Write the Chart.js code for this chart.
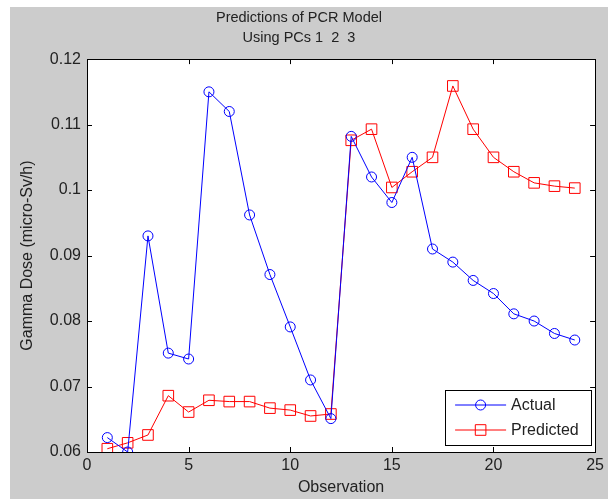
<!DOCTYPE html>
<html lang="en">
<head>
  <meta charset="UTF-8">
  <title>Predictions of PCR Model</title>
  <script src="https://cdn.jsdelivr.net/npm/chart.js"></script>
  <style>
    html, body { margin: 0; padding: 0; background: #fff; }
    #wrap { width: 608px; height: 499px; }
  </style>
</head>
<body>
  <div id="wrap"><canvas id="pcr-chart" width="608" height="499"></canvas></div>

  <script>
    // data
    const observations = [1, 2, 3, 4, 5, 6, 7, 8, 9, 10, 11, 12, 13, 14, 15, 16, 17, 18, 19, 20, 21, 22, 23, 24];
    const actual = [0.0622, 0.0600, 0.0930, 0.0751, 0.0742, 0.1150, 0.1120, 0.0962, 0.0871, 0.0791, 0.0710, 0.0651,
                    0.1082, 0.1020, 0.0981, 0.1050, 0.0910, 0.0890, 0.0862, 0.0842, 0.0811, 0.0800, 0.0781, 0.0771];
    const predicted = [0.0605, 0.0614, 0.0626, 0.0686, 0.0661, 0.0679, 0.0677, 0.0677, 0.0667, 0.0664, 0.0655, 0.0658,
                       0.1076, 0.1093, 0.1004, 0.1028, 0.1050, 0.1159, 0.1093, 0.1050, 0.1028, 0.1011, 0.1006, 0.1003];
    const xTicks = [0, 5, 10, 15, 20, 25];
    const yTicks = [0.06, 0.07, 0.08, 0.09, 0.10, 0.11, 0.12];

    const FONT = "'Liberation Sans', Arial, sans-serif";
    const TEXT = '#222';

    // grey figure background, white axes box
    const backdrop = {
      id: 'backdrop',
      beforeDraw(chart) {
        const { ctx, chartArea: a } = chart;
        ctx.save();
        ctx.fillStyle = '#fff';
        ctx.fillRect(0, 0, chart.width, chart.height);
        ctx.fillStyle = '#cccccc';
        ctx.fillRect(10, 7, chart.width - 10, chart.height - 7);
        ctx.fillStyle = '#fff';
        ctx.fillRect(a.left, a.top, a.right - a.left, a.bottom - a.top);
        ctx.restore();
      }
    };

    // box outline with inward ticks on every side
    const axesBox = {
      id: 'axesBox',
      afterDatasetsDraw(chart) {
        const { ctx, chartArea: a, scales } = chart;
        const len = 5;
        ctx.save();
        ctx.strokeStyle = '#000';
        ctx.lineWidth = 1;
        ctx.beginPath();
        xTicks.forEach(v => {
          const px = Math.round(scales.x.getPixelForValue(v)) + 0.5;
          ctx.moveTo(px, a.bottom); ctx.lineTo(px, a.bottom - len);
          ctx.moveTo(px, a.top); ctx.lineTo(px, a.top + len);
        });
        yTicks.forEach(v => {
          const py = Math.round(scales.y.getPixelForValue(v)) + 0.5;
          ctx.moveTo(a.left, py); ctx.lineTo(a.left + len, py);
          ctx.moveTo(a.right, py); ctx.lineTo(a.right - len, py);
        });
        ctx.stroke();
        ctx.strokeRect(Math.round(a.left) + 0.5, Math.round(a.top) + 0.5,
                       Math.round(a.right - a.left), Math.round(a.bottom - a.top));
        ctx.restore();
      }
    };

    // legend box sitting inside the lower right corner
    const innerLegend = {
      id: 'innerLegend',
      afterDraw(chart) {
        const { ctx, chartArea: a } = chart;
        const w = 146, h = 55;
        const x0 = a.right - w - 4, y0 = a.bottom - h - 7;
        ctx.save();
        ctx.fillStyle = '#fff';
        ctx.fillRect(x0, y0, w, h);
        ctx.strokeStyle = '#000';
        ctx.lineWidth = 1;
        ctx.strokeRect(Math.round(x0) + 0.5, Math.round(y0) + 0.5, w, h);
        ctx.font = '16px ' + FONT;
        ctx.textBaseline = 'middle';
        chart.data.datasets.forEach((ds, i) => {
          const y = y0 + 15 + i * 25;
          ctx.strokeStyle = ds.borderColor;
          ctx.beginPath();
          ctx.moveTo(x0 + 10, y); ctx.lineTo(x0 + 61, y);
          ctx.stroke();
          ctx.fillStyle = 'rgba(0,0,0,0)';
          Chart.helpers.drawPoint(ctx, {
            pointStyle: ds.pointStyle, radius: ds.pointRadius, borderWidth: 1
          }, x0 + 35.5, y);
          ctx.fillStyle = TEXT;
          ctx.fillText(ds.label, x0 + 66, y + 1);
        });
        ctx.restore();
      }
    };

    new Chart(document.getElementById('pcr-chart'), {
      type: 'line',
      data: {
        datasets: [{
          label: 'Actual',
          data: observations.map((o, i) => ({ x: o, y: actual[i] })),
          borderColor: '#0000ff',
          borderWidth: 1,
          pointStyle: 'circle',
          pointRadius: 5,
          pointBorderColor: '#0000ff',
          pointBackgroundColor: 'rgba(0,0,0,0)',
          pointBorderWidth: 1,
          tension: 0
        }, {
          label: 'Predicted',
          data: observations.map((o, i) => ({ x: o, y: predicted[i] })),
          borderColor: '#ff0000',
          borderWidth: 1,
          pointStyle: 'rect',
          pointRadius: 7.5,
          pointBorderColor: '#ff0000',
          pointBackgroundColor: 'rgba(0,0,0,0)',
          pointBorderWidth: 1,
          tension: 0
        }]
      },
      options: {
        responsive: false,
        animation: false,
        layout: { padding: { left: 0, right: 10, top: 0, bottom: 0 } },
        scales: {
          x: {
            type: 'linear',
            min: 0, max: 25,
            afterBuildTicks: s => { s.ticks = xTicks.map(v => ({ value: v })); },
            afterFit: s => { s.height = 47; },
            grid: { display: false, drawTicks: false },
            border: { display: false },
            ticks: { padding: 4, color: TEXT, font: { family: FONT, size: 16 } },
            title: {
              display: true, text: 'Observation', color: TEXT,
              font: { family: FONT, size: 16 }, padding: { top: 0, bottom: 1.5 }
            }
          },
          y: {
            min: 0.06, max: 0.12,
            afterBuildTicks: s => { s.ticks = yTicks.map(v => ({ value: v })); },
            afterFit: s => { s.width = 87; },
            grid: { display: false, drawTicks: false },
            border: { display: false },
            ticks: {
              padding: 6, color: TEXT, font: { family: FONT, size: 16 },
              callback: v => String(+v.toFixed(2))
            },
            title: {
              display: true, text: 'Gamma Dose (micro-Sv/h)', color: TEXT,
              font: { family: FONT, size: 16 }, padding: { top: 18.4, bottom: 0 }
            }
          }
        },
        plugins: {
          legend: { display: false },
          tooltip: { enabled: false },
          title: {
            display: true,
            text: ['Predictions of PCR Model', 'Using PCs 1  2  3'],
            color: TEXT,
            font: { family: FONT, size: 14.5, weight: 'normal', lineHeight: 1.4 },
            padding: { top: 8, bottom: 10.5 }
          }
        }
      },
      plugins: [backdrop, axesBox, innerLegend]
    });
  </script>
</body>
</html>
